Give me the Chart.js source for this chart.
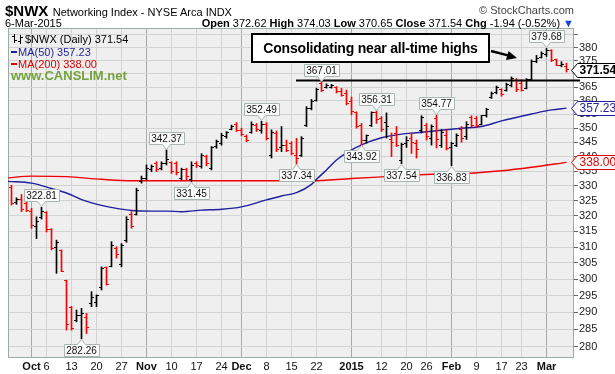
<!DOCTYPE html>
<html>
<head>
<meta charset="utf-8">
<title>$NWX Networking Index</title>
<script src="https://cdn.jsdelivr.net/npm/chart.js@4.4.1/dist/chart.umd.min.js"></script>
<style>
  html, body { margin: 0; padding: 0; background: #fff; }
  #box { position: relative; width: 615px; height: 374px; overflow: hidden;
         font-family: "Liberation Sans", Arial, sans-serif; color: #000; }
  #chart { position: absolute; left: 0; top: 0; }
  .txt { position: absolute; white-space: nowrap; line-height: 1; }
  #note { position: absolute; left: 251px; top: 33px; width: 235px; height: 26px;
          border: 2px solid #000; background: #fff; font-weight: bold; font-size: 14px;
          letter-spacing: -0.2px; text-align: center; line-height: 26px; }
</style>
</head>
<body>
<div id="box">
  <canvas id="chart" width="615" height="374"></canvas>
  <div class="txt" style="left:5px;top:3px;"><span style="font-size:15px;font-weight:bold">$NWX</span> <span style="font-size:11px">Networking Index - NYSE Arca INDX</span></div>
  <div class="txt" style="right:41px;top:5px;font-size:11px;color:#444">&copy; StockCharts.com</div>
  <div class="txt" style="left:5px;top:18px;font-size:11px">6-Mar-2015</div>
  <div class="txt" style="right:41px;top:18px;font-size:11px"><b>Open</b> 372.62 <b>High</b> 374.03 <b>Low</b> 370.65 <b>Close</b> 371.54 <b>Chg</b> -1.94 (-0.52%) <span style="color:#1f3fd0">&#9660;</span></div>
  <div id="note">Consolidating near all-time highs</div>
</div>
<script>
// daily bars, 25-Sep-2014 .. 6-Mar-2015 (index = trading day)
const opens = [
  329.5, 324.5, 325.5, 324.0, 321.5, 316.5, 319.5, 321.0, 315.5, 310.0,
  309.0, 299.5, 291.5, 287.5, 289.0, 288.5, 292.5, 293.0, 297.5, 303.5,
  304.0, 309.5, 304.5, 312.0, 320.5, 320.5, 331.5, 332.5, 335.5, 337.5,
  336.0, 337.5, 338.0, 337.5, 332.5, 335.5, 332.0, 337.5, 336.5, 340.0,
  336.0, 343.5, 344.5, 347.0, 349.5, 351.5, 349.0, 347.2, 348.5, 351.0,
  349.0, 351.5, 340.5, 348.0, 343.0, 344.0, 344.5, 340.5, 340.5, 351.0,
  357.0, 360.0, 366.5, 364.8, 365.0, 365.0, 363.5, 362.5, 359.5, 355.5,
  351.0, 345.5, 351.0, 355.8, 353.5, 352.0, 346.0, 348.0, 338.5, 344.5,
  346.5, 344.5, 349.0, 351.0, 346.5, 353.5, 344.0, 347.5, 343.0, 344.0,
  349.5, 347.0, 354.0, 353.5, 351.5, 354.5, 361.0, 363.0, 364.0, 363.8,
  365.5, 367.5, 366.5, 364.5, 368.0, 374.5, 376.3, 377.5, 379.0, 375.3,
  373.2, 372.62
];
const highs = [
  330.2, 326.0, 327.1, 325.3, 322.5, 319.7, 322.81, 321.4, 315.9, 312.2,
  309.1, 299.7, 291.8, 290.7, 291.2, 289.7, 296.2, 295.2, 303.8, 303.8,
  311.7, 310.1, 311.1, 319.8, 321.4, 329.2, 333.3, 337.1, 337.1, 338.2,
  338.2, 342.37, 338.2, 338.2, 336.0, 336.0, 338.2, 338.2, 341.0, 340.5,
  343.5, 345.8, 348.2, 348.8, 351.1, 352.0, 350.0, 347.6, 352.3, 351.7,
  352.49, 352.0, 349.4, 349.0, 350.6, 345.8, 345.2, 346.4, 347.0, 357.8,
  360.4, 364.6, 367.01, 366.2, 366.0, 365.2, 364.5, 363.9, 361.3, 355.9,
  351.7, 347.6, 355.9, 356.31, 354.2, 355.5, 348.3, 350.6, 344.7, 347.0,
  348.3, 345.8, 354.5, 351.7, 351.2, 354.77, 349.5, 349.4, 345.0, 348.0,
  350.6, 352.3, 354.5, 354.2, 354.6, 357.2, 363.2, 365.4, 364.4, 366.5,
  368.8, 368.2, 367.7, 368.2, 375.3, 377.0, 378.4, 379.68, 379.2, 375.6,
  374.6, 374.03
];
const lows = [
  323.6, 323.8, 321.4, 321.4, 316.0, 312.7, 319.0, 314.8, 309.1, 301.8,
  302.3, 284.8, 284.8, 287.2, 282.26, 283.8, 291.7, 291.7, 296.7, 298.2,
  303.8, 306.5, 303.8, 311.5, 316.0, 320.3, 330.9, 332.0, 334.8, 334.8,
  335.4, 337.1, 334.2, 333.7, 332.0, 332.0, 331.45, 336.2, 336.0, 336.8,
  335.4, 342.9, 344.0, 346.4, 349.4, 348.8, 347.3, 345.2, 348.2, 348.8,
  348.2, 345.8, 339.5, 341.7, 341.7, 341.7, 340.6, 337.34, 340.0, 350.6,
  356.6, 359.8, 363.3, 364.6, 364.6, 362.8, 361.6, 358.4, 354.8, 350.0,
  343.92, 344.7, 350.6, 351.7, 348.8, 346.5, 340.0, 343.5, 337.54, 343.2,
  341.1, 339.5, 348.3, 345.8, 344.0, 343.0, 343.2, 342.3, 336.83, 343.5,
  345.0, 346.0, 350.5, 350.3, 351.2, 354.0, 360.8, 362.5, 361.6, 363.5,
  365.1, 363.3, 363.5, 364.3, 367.7, 374.2, 376.0, 376.6, 374.6, 373.1,
  372.6, 370.65
];
const closes = [
  324.0, 325.3, 322.0, 321.8, 317.0, 318.3, 321.5, 315.5, 309.5, 311.5,
  302.5, 286.5, 285.2, 289.0, 289.8, 285.5, 294.5, 295.0, 303.2, 298.5,
  310.5, 307.5, 310.5, 319.0, 316.5, 328.5, 332.5, 336.0, 336.5, 335.5,
  337.5, 339.0, 335.0, 334.5, 335.5, 333.0, 337.0, 336.8, 340.5, 337.5,
  343.0, 345.3, 347.5, 348.3, 350.5, 349.2, 347.6, 345.5, 351.5, 349.5,
  351.5, 346.5, 348.5, 342.5, 344.0, 342.0, 341.0, 339.5, 346.5, 357.0,
  359.5, 364.0, 363.8, 365.5, 365.6, 363.5, 362.0, 358.8, 356.0, 350.5,
  345.5, 347.3, 355.5, 353.0, 349.5, 350.5, 345.0, 344.0, 344.3, 345.5,
  345.0, 342.5, 354.0, 347.0, 350.5, 346.0, 348.5, 342.8, 344.5, 347.5,
  346.5, 351.5, 351.0, 350.8, 354.5, 356.8, 362.8, 365.0, 362.2, 366.0,
  368.2, 364.0, 363.8, 367.8, 374.8, 376.0, 377.8, 379.0, 375.2, 373.2,
  373.48, 371.54
];

// moving averages (bar index -> value)
const ma50Idx = [-0.7, 4, 8, 11, 14, 18, 21, 24, 28, 31, 34, 38, 42, 46, 51, 54, 57, 60, 61, 63, 65, 67, 70, 74, 78, 81, 85, 90, 94, 98, 104, 108, 111];
const ma50Val = [331.5, 330.9, 329.1, 327.6, 325.4, 323.5, 322.5, 321.8, 321.6, 321.6, 321.4, 321.9, 322.2, 323.0, 325.3, 326.6, 327.7, 330.5, 332.2, 335.4, 338.8, 341.3, 344.1, 346.6, 347.9, 348.4, 349.1, 350.0, 350.6, 352.6, 355.1, 356.6, 357.23];
const ma200Idx = [-0.7, 4, 11, 18, 24, 38, 60, 68, 75, 84, 91, 98, 104, 111];
const ma200Val = [332.7, 333.3, 333.1, 332.2, 331.7, 331.7, 331.7, 332.5, 333.1, 333.9, 334.2, 335.1, 336.3, 338.00];

// x axis labels
const tickPos = [4, 7, 12, 17, 22, 27, 32, 37, 42, 46, 51, 56, 61, 68, 74, 79, 83, 88, 93, 98, 102, 107];
const tickText = ['Oct', '6', '13', '20', '27', 'Nov', '10', '17', '24', 'Dec', '8', '15', '22', '2015', '12', '20', '26', 'Feb', '9', '17', '23', 'Mar'];
const yTicks = [280, 285, 290, 295, 300, 305, 310, 315, 320, 325, 330, 335, 340, 345, 350, 355, 360, 365, 370, 375, 380, 385];

// swing high / low call-outs
const calloutIdx = [6, 14, 31, 36, 50, 57, 62, 70, 73, 78, 85, 88, 107];
const calloutSide = ['H', 'L', 'H', 'L', 'H', 'L', 'H', 'L', 'H', 'L', 'H', 'L', 'H'];

// drawn resistance line
const resLevel = 367.5;
const resFrom = 56.9, resTo = 113.7;

const RED = '#ff0000', BLACK = '#000000';
const n = closes.length;
const idx = closes.map((c, i) => i);
const barColors = closes.map((c, i) => (i === 0 ? c < opens[0] : c < closes[i - 1]) ? RED : BLACK);
const isMonth = tickText.map(t => isNaN(+t) || t === '2015');

function tickImg(color, left) {
  const c = document.createElement('canvas');
  c.width = 5; c.height = 1;
  const g = c.getContext('2d');
  g.fillStyle = color;
  g.fillRect(left ? 0 : 3, 0, 2, 1);
  return c;
}
const openTick = { [RED]: tickImg(RED, true), [BLACK]: tickImg(BLACK, true) };
const closeTick = { [RED]: tickImg(RED, false), [BLACK]: tickImg(BLACK, false) };

function tag(ctx, y, text, color, bold) {
  ctx.font = (bold ? 'bold ' : '') + '12px "Liberation Sans"';
  const w = Math.ceil(ctx.measureText(text).width) + 3;
  const x0 = 577.5, h = 14;
  y = Math.round(y) + 0.5;
  ctx.beginPath();
  ctx.moveTo(571.5, y);
  ctx.lineTo(x0, y - h / 2);
  ctx.lineTo(x0 + w, y - h / 2);
  ctx.lineTo(x0 + w, y + h / 2);
  ctx.lineTo(x0, y + h / 2);
  ctx.closePath();
  ctx.fillStyle = '#fff';
  ctx.fill();
  ctx.lineWidth = 1;
  ctx.strokeStyle = color;
  ctx.stroke();
  ctx.fillStyle = color;
  ctx.textAlign = 'left';
  ctx.textBaseline = 'middle';
  ctx.fillText(text, x0 + 2, y + 0.5);
}

const overlay = {
  id: 'overlay',
  beforeDraw(chart) {
    const { ctx, chartArea: a } = chart;
    ctx.save();
    ctx.fillStyle = '#efefef';
    ctx.fillRect(a.left, a.top, a.right - a.left, a.bottom - a.top);
    ctx.restore();
  },
  beforeDatasetsDraw(chart) {
    const { ctx, chartArea: a } = chart;
    ctx.save();
    ctx.strokeStyle = '#9cada5';
    ctx.lineWidth = 1;
    ctx.strokeRect(a.left + 0.5, a.top + 0.5, a.right - a.left - 1, a.bottom - a.top - 1);
    ctx.restore();
    ctx.imageSmoothingEnabled = false;
  },
  afterDatasetsDraw(chart) {
    const { ctx } = chart;
    const xs = chart.scales.x, ys = chart.scales.y;
    ctx.save();
    ctx.font = '10px "Liberation Sans"';
    ctx.lineWidth = 1;
    calloutIdx.forEach((i, k) => {
      const up = calloutSide[k] === 'H';
      const v = up ? highs[i] : lows[i];
      const x = xs.getPixelForValue(i);
      const y = ys.getPixelForValue(v);
      const txt = v.toFixed(2);
      const w = Math.ceil(ctx.measureText(txt).width) + 4, h = 12, p = 5;
      const l = Math.round(x - w / 2) + 0.5;
      const t = up ? Math.round(y - p - h) - 0.5 : Math.round(y + p) + 0.5;
      ctx.beginPath();
      if (up) {
        ctx.moveTo(l, t); ctx.lineTo(l + w, t); ctx.lineTo(l + w, t + h);
        ctx.lineTo(x + 4, t + h); ctx.lineTo(x, t + h + p); ctx.lineTo(x - 4, t + h);
        ctx.lineTo(l, t + h);
      } else {
        ctx.moveTo(l, t); ctx.lineTo(x - 4, t); ctx.lineTo(x, t - p); ctx.lineTo(x + 4, t);
        ctx.lineTo(l + w, t); ctx.lineTo(l + w, t + h); ctx.lineTo(l, t + h);
      }
      ctx.closePath();
      ctx.fillStyle = '#fafafa';
      ctx.fill();
      ctx.strokeStyle = '#a9b6b0';
      ctx.stroke();
      ctx.fillStyle = '#111';
      ctx.textAlign = 'center';
      ctx.textBaseline = 'middle';
      ctx.fillText(txt, x, t + h / 2 + 0.5);
    });
    ctx.restore();
  },
  afterDraw(chart) {
    const { ctx } = chart;
    const ys = chart.scales.y;
    ctx.save();
    // legend
    ctx.fillStyle = '#000';
    ctx.fillRect(14, 34, 1, 9); ctx.fillRect(12, 36, 2, 1); ctx.fillRect(15, 40, 2, 1);
    ctx.fillRect(20, 35, 1, 9); ctx.fillRect(18, 41, 2, 1); ctx.fillRect(21, 37, 2, 1);
    ctx.font = '11px "Liberation Sans"';
    ctx.textAlign = 'left';
    ctx.textBaseline = 'alphabetic';
    ctx.fillText('$NWX (Daily) ' + closes[n - 1].toFixed(2), 25, 43);
    ctx.fillStyle = '#1f1f9f';
    ctx.fillRect(11, 51, 6, 2);
    ctx.fillText('MA(50) ' + ma50Val[ma50Val.length - 1].toFixed(2), 18, 56);
    ctx.fillStyle = '#e00000';
    ctx.fillRect(11, 63, 6, 2);
    ctx.fillText('MA(200) ' + ma200Val[ma200Val.length - 1].toFixed(2), 18, 68);
    ctx.font = 'bold 13px "Liberation Sans"';
    ctx.fillStyle = '#72a23a';
    ctx.fillText('www.CANSLIM.net', 11, 80);

    // arrow from the note box
    ctx.strokeStyle = '#000';
    ctx.fillStyle = '#000';
    ctx.lineWidth = 2.5;
    ctx.beginPath(); ctx.moveTo(491, 51); ctx.lineTo(508, 55.4); ctx.stroke();
    ctx.beginPath(); ctx.moveTo(517, 58); ctx.lineTo(508.5, 51); ctx.lineTo(506, 60); ctx.closePath(); ctx.fill();

    // last value tags on the price axis
    tag(ctx, ys.getPixelForValue(closes[n - 1]), closes[n - 1].toFixed(2), '#000', true);
    tag(ctx, ys.getPixelForValue(ma50Val[ma50Val.length - 1]), ma50Val[ma50Val.length - 1].toFixed(2), '#1f1f9f', false);
    tag(ctx, ys.getPixelForValue(ma200Val[ma200Val.length - 1]), ma200Val[ma200Val.length - 1].toFixed(2), '#e00000', false);
    ctx.restore();
  }
};

new Chart(document.getElementById('chart'), {
  type: 'bar',
  data: {
    datasets: [
      {
        type: 'line',
        data: [{ x: resFrom, y: resLevel }, { x: resTo, y: resLevel }],
        borderColor: '#000', borderWidth: 2, pointRadius: 0, clip: false
      },
      {
        type: 'scatter',
        data: idx.map(i => ({ x: i, y: opens[i] })),
        pointStyle: barColors.map(c => openTick[c]),
        pointRadius: 2
      },
      {
        type: 'scatter',
        data: idx.map(i => ({ x: i, y: closes[i] })),
        pointStyle: barColors.map(c => closeTick[c]),
        pointRadius: 2
      },
      {
        type: 'bar',
        data: idx.map(i => ({ x: i, y: [lows[i], highs[i]] })),
        backgroundColor: barColors,
        borderWidth: 0,
        barThickness: 1
      },
      {
        type: 'line',
        data: ma50Idx.map((x, k) => ({ x: x, y: ma50Val[k] })),
        borderColor: '#1f1f9f', borderWidth: 1.4, pointRadius: 0,
        cubicInterpolationMode: 'monotone'
      },
      {
        type: 'line',
        data: ma200Idx.map((x, k) => ({ x: x, y: ma200Val[k] })),
        borderColor: '#ee0000', borderWidth: 1.4, pointRadius: 0,
        cubicInterpolationMode: 'monotone'
      }
    ]
  },
  options: {
    responsive: false,
    animation: false,
    events: [],
    layout: { padding: { left: 8, top: 28, right: 0, bottom: 0 } },
    plugins: { legend: { display: false }, tooltip: { enabled: false } },
    scales: {
      x: {
        type: 'linear',
        min: -0.7,
        max: 112.5,
        offset: false,
        afterBuildTicks: s => { s.ticks = tickPos.map(v => ({ value: v })); },
        afterFit: s => { s.height = 16; },
        border: { display: false },
        grid: {
          offset: false,
          drawTicks: false,
          color: c => isMonth[c.index] ? '#a9a9a9' : '#d3d3d3'
        },
        ticks: {
          autoSkip: false,
          maxRotation: 0,
          padding: 2,
          color: '#111',
          font: c => ({ family: 'Liberation Sans', size: 11, weight: isMonth[c.index] ? 'bold' : 'normal' }),
          callback: (v, i) => tickText[i]
        }
      },
      y: {
        type: 'logarithmic',
        position: 'right',
        min: 276.8,
        max: 387.7,
        afterBuildTicks: s => { s.ticks = yTicks.map(v => ({ value: v })); },
        afterFit: s => { s.width = 41; },
        border: { display: false },
        grid: { color: '#d3d3d3', tickColor: '#666', tickLength: 4 },
        ticks: {
          autoSkip: false,
          padding: 1,
          color: '#222',
          font: { family: 'Liberation Sans', size: 11 },
          callback: v => v === 385 ? '' : String(v)
        }
      }
    }
  },
  plugins: [overlay]
});
</script>
</body>
</html>
